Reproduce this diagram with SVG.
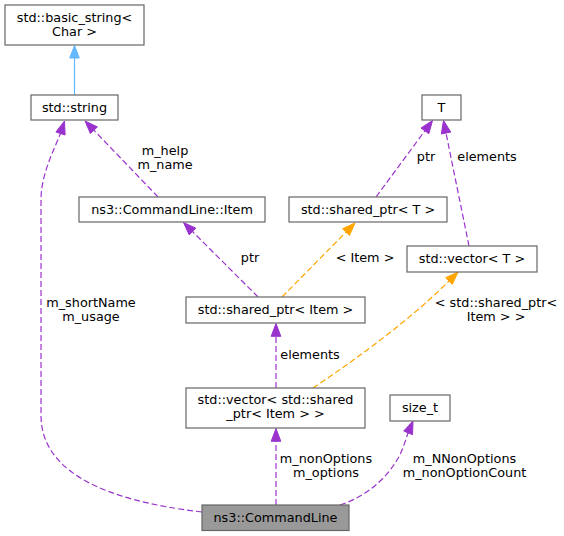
<svg xmlns="http://www.w3.org/2000/svg" width="564" height="536" viewBox="0 0 564 536">
<style>
text{font-family:"DejaVu Sans",sans-serif;font-size:12.8px;fill:#000;text-anchor:middle}
.box{fill:#fff;stroke:#666;stroke-width:1.2}
.cur{fill:#999;stroke:#666;stroke-width:1.2}
.e{fill:none;stroke:#9a32cd;stroke-width:1.2;stroke-dasharray:6,3}
.o{fill:none;stroke:#ffa500;stroke-width:1.2;stroke-dasharray:6,3}
.b{fill:none;stroke:#63b8ff;stroke-width:1.2}
.ah{fill:#9a32cd;stroke:#9a32cd}
.oh{fill:#ffa500;stroke:#ffa500}
.bh{fill:#63b8ff;stroke:#63b8ff}
</style>
<rect width="564" height="536" fill="#fff"/>
<g id="edges">
<path class="b" d="M74.5,95 L74.5,58"/>
<polygon class="bh" points="74.5,45.5 79.3,58 69.7,58"/>
<path class="e" d="M158,197 L93.9,130.2"/>
<polygon class="ah" points="85,121 97.4,126.9 90.4,133.5"/>
<text x="165" y="155">m_help</text>
<text x="165" y="169">m_name</text>
<path class="e" d="M202,512 C100,500 41,470 41,415 L41,200 C41,175 53,152 60.5,133.5"/>
<polygon class="ah" points="64.5,121 65.1,135 55.9,132"/>
<text x="91" y="307">m_shortName</text>
<text x="91" y="321">m_usage</text>
<path class="e" d="M258,297 L192.5,231.5"/>
<polygon class="ah" points="183.5,222.5 195.9,228.2 189.2,234.9"/>
<text x="250" y="262">ptr</text>
<path class="o" d="M282,297 L346,232.1"/>
<polygon class="oh" points="355,223 349.4,235.5 342.6,228.7"/>
<text x="365" y="262">&lt; Item &gt;</text>
<path class="e" d="M376,197 L424.9,130.8"/>
<polygon class="ah" points="432.5,120.5 428.8,133.7 421,128"/>
<text x="426" y="161">ptr</text>
<path class="e" d="M469,246 L446,133"/>
<polygon class="ah" points="443.5,120.5 450.8,132.1 441.3,134"/>
<text x="487" y="161">elements</text>
<path class="e" d="M276,388 L276,336.3"/>
<polygon class="ah" points="276,323.5 280.8,336.3 271.2,336.3"/>
<text x="310" y="359">elements</text>
<path class="o" d="M313,388 C355,360 410,320 449,281"/>
<polygon class="oh" points="458,272 452.3,284.4 445.6,277.7"/>
<text x="496" y="306.5">&lt; std::shared_ptr&lt;</text>
<text x="496" y="320.5">Item &gt; &gt;</text>
<path class="e" d="M276,505 L276,441.3"/>
<polygon class="ah" points="276,428.5 280.8,441.3 271.2,441.3"/>
<text x="326" y="463">m_nonOptions</text>
<text x="326" y="477">m_options</text>
<path class="e" d="M340,505 C365,497 385,480 397,460 C402,452 405,442 408.1,432.8"/>
<polygon class="ah" points="413,421 412.5,434.7 403.7,431"/>
<text x="464.5" y="463">m_NNonOptions</text>
<text x="464.5" y="477">m_nonOptionCount</text>
</g>
<g id="basic_string"><rect class="box" x="5" y="5" width="139" height="40"/><text x="74.5" y="21.5">std::basic_string&lt;</text><text x="74.5" y="35.5">Char &gt;</text></g>
<g id="string"><rect class="box" x="31" y="95" width="87" height="25"/><text x="74.5" y="111.5">std::string</text></g>
<g id="item"><rect class="box" x="79" y="197" width="186" height="25"/><text x="172" y="213.5">ns3::CommandLine::Item</text></g>
<g id="T"><rect class="box" x="422" y="95" width="39" height="25"/><text x="441.5" y="111.5">T</text></g>
<g id="shared_ptr_T"><rect class="box" x="289" y="197" width="158" height="25"/><text x="368" y="213.5">std::shared_ptr&lt; T &gt;</text></g>
<g id="vector_T"><rect class="box" x="407" y="246" width="130" height="26"/><text x="472" y="263">std::vector&lt; T &gt;</text></g>
<g id="shared_ptr_item"><rect class="box" x="186" y="297" width="179" height="26"/><text x="275.5" y="314">std::shared_ptr&lt; Item &gt;</text></g>
<g id="vector_shared_ptr"><rect class="box" x="186" y="388" width="179" height="40"/><text x="275.5" y="404">std::vector&lt; std::shared</text><text x="275.5" y="418">_ptr&lt; Item &gt; &gt;</text></g>
<g id="size_t"><rect class="box" x="390" y="395" width="60" height="26"/><text x="420" y="412">size_t</text></g>
<g id="commandline"><rect class="cur" x="202" y="505" width="147" height="25.5"/><text x="275.5" y="522">ns3::CommandLine</text></g>
</svg>
